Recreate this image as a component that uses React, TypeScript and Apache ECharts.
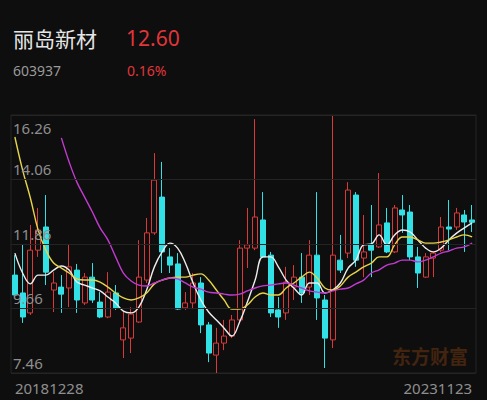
import { useEffect, useRef } from 'react';
import * as echarts from 'echarts';

const stockName = '丽岛新材';
const stockCode = '603937';
const lastPrice = '12.60';
const changePct = '0.16%';
const firstDate = '20181228';
const lastDate = '20231123';
const watermark = '东方财富';

// price levels printed on the left edge
const priceTicks = [7.46, 9.66, 11.86, 14.06, 16.26];

// monthly K-line, Dec 2018 .. Nov 2023
const opens = [
  10.80, 10.19, 9.51, 11.65, 12.44, 10.29, 10.39, 10.36, 10.97, 9.85,
  10.73, 9.88, 9.37, 10.19, 8.59, 8.65, 9.20, 10.63, 12.24, 13.46,
  11.42, 11.18, 9.68, 9.85, 10.53, 9.10, 8.07, 8.48, 8.72, 9.27,
  11.72, 11.72, 12.68, 11.48, 9.61, 9.51, 10.39, 10.73, 10.39, 11.48,
  9.95, 8.59, 11.31, 11.55, 13.53, 11.38, 11.83, 11.76, 12.58, 11.59,
  13.02, 12.95, 11.42, 10.73, 11.38, 11.65, 12.44, 12.44, 12.85, 12.68,
];
const closes = [
  10.12, 9.37, 11.65, 12.34, 10.90, 10.53, 10.15, 11.08, 9.95, 10.73,
  9.95, 9.37, 10.22, 9.68, 9.00, 9.47, 10.73, 12.24, 14.04, 11.59,
  11.14, 9.64, 9.85, 10.53, 9.10, 8.14, 8.48, 8.72, 9.27, 11.72,
  11.83, 12.78, 11.42, 9.51, 9.37, 10.56, 10.73, 10.19, 11.48, 10.02,
  8.65, 11.48, 10.97, 13.70, 11.31, 11.59, 11.65, 12.51, 11.59, 13.09,
  12.85, 11.42, 10.87, 11.42, 11.55, 12.44, 12.37, 12.92, 12.61, 12.60,
];
const lows = [
  10.05, 9.17, 9.44, 11.42, 10.46, 9.54, 9.51, 9.71, 9.51, 9.78,
  9.85, 9.33, 9.33, 9.61, 7.97, 8.14, 9.17, 10.53, 12.17, 10.87,
  10.87, 9.61, 9.61, 9.64, 8.82, 7.83, 7.46, 8.24, 8.65, 9.20,
  11.04, 11.65, 11.38, 9.37, 9.00, 9.27, 9.95, 9.85, 10.12, 9.27,
  7.63, 8.31, 10.87, 11.38, 11.08, 10.73, 10.73, 11.72, 11.55, 11.55,
  12.24, 11.31, 10.36, 10.70, 10.73, 11.59, 11.65, 12.34, 11.59, 12.27,
];
const highs = [
  11.48, 11.83, 12.51, 13.09, 13.53, 10.90, 10.80, 11.86, 11.18, 10.87,
  11.21, 10.22, 10.90, 10.46, 9.57, 9.71, 11.99, 12.75, 14.96, 14.66,
  11.72, 11.55, 10.22, 10.87, 10.73, 9.20, 9.00, 9.27, 9.44, 11.99,
  13.09, 16.12, 13.63, 11.59, 10.05, 11.08, 11.14, 11.55, 11.99, 13.63,
  10.12, 16.26, 12.17, 13.97, 13.63, 12.85, 13.19, 14.28, 13.09, 13.19,
  13.53, 13.19, 11.76, 11.55, 11.59, 12.78, 13.36, 13.09, 13.02, 13.19,
];

// moving averages
const ma5 = [
  11.55, 10.87, 10.50, 10.80, 10.80, 10.97, 11.11, 10.97, 10.56, 10.46,
  10.36, 10.26, 10.05, 9.85, 9.57, 9.51, 9.71, 10.29, 11.08, 11.59,
  11.89, 11.72, 11.21, 10.53, 9.95, 9.54, 9.27, 8.99, 8.72, 9.20,
  9.88, 10.63, 11.42, 11.42, 11.08, 10.63, 10.36, 10.12, 10.53, 10.53,
  10.19, 10.29, 10.53, 11.04, 11.31, 11.83, 11.86, 12.17, 11.83, 12.17,
  12.34, 12.27, 12.00, 11.72, 11.59, 11.72, 12.00, 12.23, 12.41, 12.58,
];
const ma10 = [
  15.51, 14.38, 13.43, 12.34, 11.65, 11.21, 11.04, 10.87, 10.67, 10.63,
  10.63, 10.56, 10.39, 10.19, 10.02, 9.95, 10.02, 10.19, 10.50, 10.63,
  10.70, 10.73, 10.73, 10.80, 10.84, 10.63, 10.29, 9.95, 9.64, 9.64,
  9.78, 10.05, 10.19, 10.12, 10.12, 10.36, 10.53, 10.73, 10.90, 10.70,
  10.36, 10.29, 10.43, 10.73, 10.90, 11.08, 11.21, 11.42, 11.42, 11.83,
  12.10, 12.10, 12.00, 11.89, 11.89, 11.93, 12.00, 12.10, 12.17, 12.10,
];
const ma20 = [
  null, null, null, null, null, null, 15.48, 14.66, 13.97, 13.46,
  12.95, 12.41, 12.00, 11.42, 10.87, 10.60, 10.46, 10.43, 10.53, 10.63,
  10.70, 10.67, 10.53, 10.39, 10.32, 10.22, 10.19, 10.15, 10.12, 10.15,
  10.26, 10.36, 10.43, 10.46, 10.50, 10.53, 10.46, 10.36, 10.26, 10.22,
  10.19, 10.26, 10.32, 10.36, 10.50, 10.63, 10.87, 10.98, 11.14, 11.21,
  11.31, 11.31, 11.25, 11.31, 11.42, 11.55, 11.62, 11.72, 11.76, 11.89,
];

// one category per month; the ends carry the exact trading dates
const categories: string[] = opens.map((_, i) => {
  const m = 11 + i;
  const year = 2018 + Math.floor(m / 12);
  const month = (m % 12) + 1;
  return `${year}${String(month).padStart(2, '0')}`;
});
categories[0] = firstDate;
categories[categories.length - 1] = lastDate;

const BG = '#0e0e0e';
const RED = '#d8393a';
const CYAN = '#31e1e6';
const GRID = '#242424';
const LABEL = '#8e8e8e';
const LATIN = '"Noto Sans", Roboto, sans-serif';
const CJK = '"Noto Sans CJK SC", sans-serif';

export default function App() {
  const ref = useRef<HTMLDivElement>(null);

  useEffect(() => {
    if (!ref.current) return;
    const chart = echarts.init(ref.current, undefined, { renderer: 'svg' });
    const kData = opens.map((o, i) => [o, closes[i], lows[i], highs[i]]);
    const yMin = priceTicks[0];
    const yMax = priceTicks[priceTicks.length - 1];

    const maLine = (name: string, data: (number | null)[], color: string) => ({
      name,
      type: 'line',
      data,
      smooth: 0.4,
      symbol: 'none',
      connectNulls: false,
      lineStyle: { color, width: 1.4 },
      emphasis: { disabled: true },
      silent: true,
      z: 3,
    });

    chart.setOption({
      animation: false,
      backgroundColor: BG,
      grid: {
        left: 11,
        right: 11,
        top: 115,
        bottom: 27,
        show: true,
        borderColor: GRID,
        borderWidth: 1,
        backgroundColor: 'transparent',
      },
      xAxis: {
        type: 'category',
        data: categories,
        boundaryGap: true,
        axisLine: { show: false },
        axisTick: { show: false },
        splitLine: { show: false },
        axisLabel: {
          interval: (i: number) => i === 0 || i === categories.length - 1,
          color: LABEL,
          fontSize: 15,
          fontFamily: LATIN,
          margin: 7,
          alignMinLabel: 'left',
          alignMaxLabel: 'right',
        },
      },
      yAxis: {
        type: 'value',
        min: yMin,
        max: yMax,
        axisLine: { show: false },
        axisTick: { show: false },
        axisLabel: { show: false },
        splitLine: { show: false },
      },
      series: [
        {
          name: 'K',
          type: 'candlestick',
          data: kData,
          barWidth: '74%',
          itemStyle: {
            color: BG,
            color0: CYAN,
            borderColor: RED,
            borderColor0: CYAN,
            borderWidth: 1,
          },
          emphasis: { disabled: true },
          silent: true,
          z: 2,
          markLine: {
            silent: true,
            symbol: ['none', 'none'],
            animation: false,
            lineStyle: { color: GRID, width: 1, type: 'solid' },
            label: {
              show: true,
              position: 'insideStartTop',
              distance: [2, 3],
              color: LABEL,
              fontSize: 15,
              fontFamily: LATIN,
              formatter: (p: any) => Number(p.value).toFixed(2),
            },
            data: priceTicks.map((v) =>
              v === yMax
                ? { yAxis: v, label: { position: 'insideStartBottom', distance: [2, 5] } }
                : { yAxis: v }
            ),
          },
        },
        maLine('MA5', ma5, '#ededed'),
        maLine('MA10', ma10, '#e7d34a'),
        maLine('MA20', ma20, '#c23bd0'),
      ],
      graphic: [
        {
          type: 'text',
          left: 13,
          top: 27,
          style: { text: stockName, fill: '#e6e6e6', fontSize: 21, fontFamily: CJK },
        },
        {
          type: 'text',
          left: 126,
          top: 27,
          style: { text: lastPrice, fill: '#e0363a', fontSize: 21, fontFamily: LATIN },
        },
        {
          type: 'text',
          left: 13,
          top: 63,
          style: { text: stockCode, fill: '#9a9a9a', fontSize: 14, fontFamily: LATIN },
        },
        {
          type: 'text',
          left: 127,
          top: 63,
          style: { text: changePct, fill: '#e0363a', fontSize: 14, fontFamily: LATIN },
        },
        {
          type: 'text',
          left: 392,
          top: 346,
          z: 1,
          style: {
            text: watermark,
            fill: '#43240f',
            fontSize: 19,
            fontWeight: 'bold',
            fontFamily: CJK,
          },
        },
      ],
    });

    return () => chart.dispose();
  }, []);

  return (
    <div
      ref={ref}
      style={{ position: 'fixed', left: 0, top: 0, width: 487, height: 400, background: BG }}
    />
  );
}
